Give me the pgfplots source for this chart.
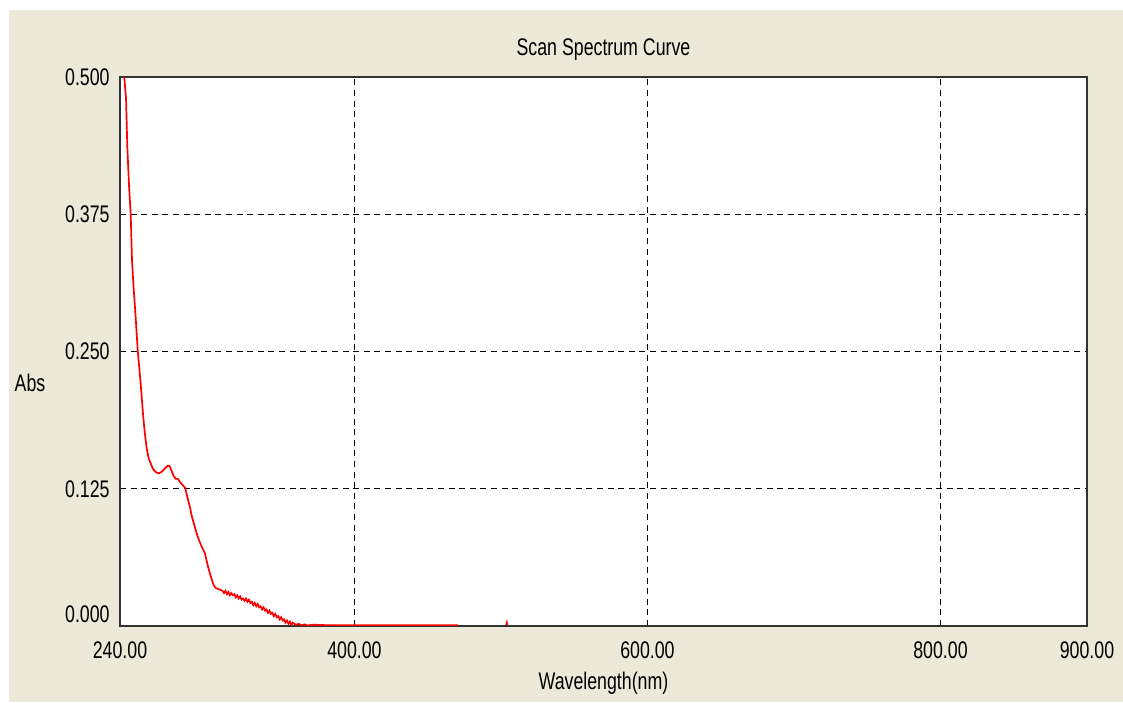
\documentclass[border=0pt]{standalone}
\usepackage{pgfplots}
\pgfplotsset{compat=1.18}
\usepackage{fontspec}
\setmainfont{Liberation Sans}[FakeStretch=0.74]
\definecolor{panel}{HTML}{ECE9D8}
\definecolor{frame}{HTML}{333333}

\begin{document}
\begin{tikzpicture}[font=\fontsize{12}{14}\selectfont]
% 1 px of the reference = 0.5pt, origin at the lower left corner of the plot box
\fill[white] (-60pt,-38pt) rectangle (501.5pt,313pt);
\fill[panel] (-55.5pt,-38pt) rectangle (501.5pt,308pt);
\begin{axis}[
    at={(0pt,0pt)}, anchor=south west,
    scale only axis,
    width=483.5pt, height=274.5pt,
    xmin=240, xmax=900,
    ymin=0, ymax=0.5,
    xtick={240,400,600,800,900},
    xticklabels={240.00,400.00,600.00,800.00,900.00},
    ytick={0,0.125,0.25,0.375,0.5},
    yticklabels={\raisebox{6pt}[\height][\depth]{0.000},0.125,0.250,0.375,0.500},
    major tick length=0pt,
    xticklabel style={anchor=center, yshift=-12pt},
    yticklabel style={anchor=east, inner sep=0pt, xshift=-5pt},
    grid=major,
    major grid style={black, line width=0.7pt, dash pattern=on 3pt off 2.3pt},
    axis line style={frame, line width=1pt},
    axis background/.style={fill=white},
    every axis title shift=0pt,
    title={Scan Spectrum Curve},
    title style={at={(0.5,1.0492)}, anchor=center},
    xlabel={Wavelength(nm)},
    xlabel style={at={(0.5,-0.1038)}, anchor=center},
    ylabel={Abs},
    ylabel style={at={(-0.0931,0.443)}, rotate=-90, anchor=center},
    ]
    \addplot[red, line width=0.85pt, no markers] coordinates {
        (241.5,0.530) (242.9,0.500) (244.1,0.481) (245.0,0.436) (246.2,0.400)
        (247.3,0.375) (248.2,0.333) (249.1,0.312) (250.7,0.281) (252.1,0.251)
        (254.1,0.221) (255.9,0.190) (257.0,0.175) (258.2,0.162) (259.5,0.153)
        (261.0,0.148) (262.5,0.143) (264.6,0.140) (266.5,0.139) (268.0,0.140)
        (269.5,0.142) (271.0,0.144) (272.5,0.146) (273.7,0.146) (275.0,0.142)
        (276.5,0.137) (278.0,0.134) (279.5,0.134) (281.0,0.131) (283.0,0.128)
        (284.5,0.126) (285.7,0.119) (287.0,0.112) (287.8,0.108) (289.0,0.100)
        (290.5,0.093) (292.4,0.084) (294.0,0.078) (295.5,0.073) (297.0,0.069)
        (298.0,0.066) (299.0,0.060) (300.3,0.053) (302.0,0.045) (303.7,0.038)
        (305.0,0.035) (306.5,0.034) (308.3,0.033) (310,0.032) (311,0.030)
        (312,0.032) (313,0.029) (314,0.031) (315,0.028) (316,0.030)
        (317,0.028) (318,0.029) (319,0.026) (320,0.028) (321,0.025)
        (322,0.027) (323,0.024) (324,0.025) (325,0.023) (326,0.025)
        (327,0.022) (328,0.024) (329,0.021) (330,0.022) (331,0.019)
        (332,0.021) (333,0.018) (334,0.020) (335,0.017) (336,0.018)
        (337,0.015) (338,0.017) (339,0.014) (340,0.015) (341,0.012)
        (342,0.014) (343,0.011) (344,0.012) (345,0.009) (346,0.011)
        (347,0.008) (348,0.009) (349,0.006) (350,0.008) (351,0.005)
        (352,0.006) (353,0.003) (354,0.005) (355,0.002) (356,0.004)
        (357,0.001) (358,0.003) (360,0.001) (362,0.002) (364,0.0005)
        (366,0.0015) (368,0.0005) (372,0.0012) (380,0.0008) (420,0.0008)
        (470.7,0.0008)
    };
    \addplot[red, line width=0.85pt, no markers] coordinates {
        (503.6,0.0008) (504.0,0.003) (504.4,0.0008)
    };
\end{axis}
\end{tikzpicture}
\end{document}
